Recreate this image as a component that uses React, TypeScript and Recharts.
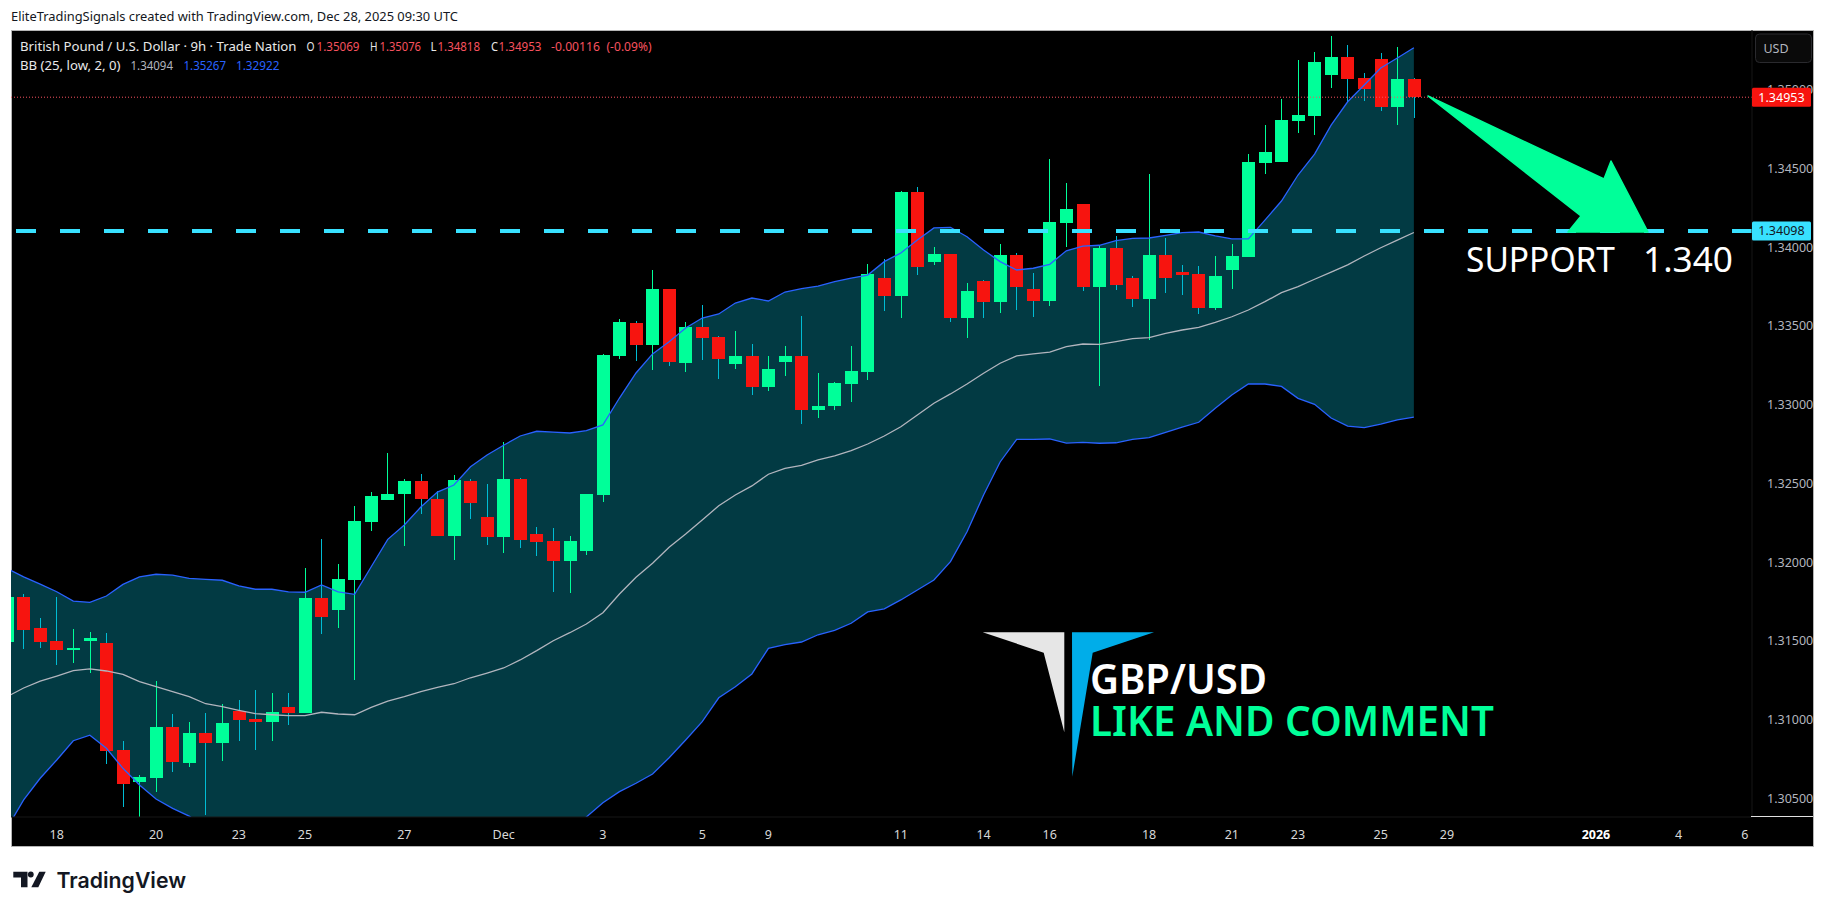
import { ComposedChart, Area, Bar, Line, XAxis, YAxis, ReferenceLine } from "recharts";

const FONT = "'Noto Sans', sans-serif";
const UP = "#00ff99";
const DOWN = "#f7140f";
const DOWN_WICK = "#00bcd4";
const BB_BLUE = "#2962ff";

const opens = [
  1.31494, 1.3178, 1.31583, 1.315, 1.31443, 1.315, 1.31488, 1.30808, 1.30605, 1.30631,
  1.30954, 1.30726, 1.30916, 1.30853, 1.31056, 1.31005, 1.30986, 1.31081, 1.31043, 1.31773,
  1.31697, 1.31888, 1.32256, 1.32396, 1.32434, 1.32516, 1.32402, 1.32167, 1.32516, 1.32288,
  1.32161, 1.32529, 1.3218, 1.32135, 1.32008, 1.32072, 1.32427, 1.3331, 1.33519, 1.3338,
  1.33735, 1.33265, 1.33494, 1.3343, 1.33259, 1.3331, 1.33113, 1.33272, 1.3331, 1.32967,
  1.32992, 1.33132, 1.33208, 1.33805, 1.33691, 1.34351, 1.33907, 1.33957, 1.33551, 1.33786,
  1.33653, 1.33951, 1.33735, 1.33659, 1.34154, 1.34275, 1.33748, 1.33996, 1.33805, 1.33672,
  1.33951, 1.33843, 1.3383, 1.33615, 1.33856, 1.33938, 1.34535, 1.34542, 1.34802, 1.34834,
  1.35094, 1.35208, 1.35075, 1.35196, 1.34891, 1.35069,
];
const highs = [
  1.31799, 1.31799, 1.31646, 1.3178, 1.31577, 1.31558, 1.31551, 1.30866, 1.3065, 1.31246,
  1.31037, 1.30986, 1.31043, 1.311, 1.31126, 1.31189, 1.3117, 1.3117, 1.31964, 1.32148,
  1.31989, 1.32358, 1.32446, 1.32694, 1.32529, 1.32561, 1.32453, 1.32554, 1.32529, 1.32497,
  1.32764, 1.32535, 1.32224, 1.32218, 1.32167, 1.32434, 1.33323, 1.33545, 1.33532, 1.33856,
  1.33735, 1.33526, 1.33634, 1.33437, 1.33469, 1.33386, 1.3331, 1.33373, 1.33564, 1.33202,
  1.33145, 1.33373, 1.33894, 1.33926, 1.34357, 1.34383, 1.34002, 1.33957, 1.33773, 1.33792,
  1.34021, 1.33964, 1.33837, 1.34561, 1.34408, 1.34275, 1.34008, 1.34072, 1.33818, 1.34465,
  1.34059, 1.33888, 1.33881, 1.33945, 1.34021, 1.34592, 1.34776, 1.34942, 1.35189, 1.3524,
  1.35342, 1.35284, 1.35107, 1.35234, 1.35272, 1.35076,
];
const lows = [
  1.31475, 1.3145, 1.31456, 1.31348, 1.31361, 1.31297, 1.30719, 1.30447, 1.30364, 1.30542,
  1.30669, 1.307, 1.30396, 1.30739, 1.30866, 1.30808, 1.30866, 1.30967, 1.31043, 1.31545,
  1.31583, 1.31253, 1.32199, 1.32396, 1.32104, 1.32307, 1.32167, 1.32015, 1.32275, 1.3211,
  1.32059, 1.32091, 1.3204, 1.31812, 1.31805, 1.32046, 1.32383, 1.33291, 1.33278, 1.33221,
  1.33246, 1.33208, 1.33284, 1.33164, 1.33227, 1.33062, 1.33088, 1.33183, 1.32878, 1.32916,
  1.32967, 1.33018, 1.33157, 1.33596, 1.33551, 1.33824, 1.33888, 1.33526, 1.33424, 1.33551,
  1.33583, 1.33602, 1.33557, 1.33627, 1.34002, 1.33723, 1.33119, 1.33729, 1.33621, 1.33411,
  1.3371, 1.33697, 1.33577, 1.33602, 1.33735, 1.33938, 1.34465, 1.34542, 1.34726, 1.34713,
  1.35011, 1.34923, 1.34929, 1.34865, 1.34776, 1.34818,
];
const closes = [
  1.3178, 1.3157, 1.31494, 1.31443, 1.31456, 1.31519, 1.30802, 1.30593, 1.30637, 1.30954,
  1.30732, 1.30916, 1.30853, 1.3098, 1.30999, 1.30986, 1.3105, 1.31043, 1.31773, 1.31653,
  1.31894, 1.32262, 1.32421, 1.32434, 1.32516, 1.32402, 1.32167, 1.32523, 1.32377, 1.32161,
  1.32529, 1.32142, 1.32129, 1.32008, 1.32135, 1.32434, 1.33316, 1.33526, 1.3338, 1.33735,
  1.33272, 1.33494, 1.33424, 1.33291, 1.3331, 1.33113, 1.33227, 1.3331, 1.32967, 1.32992,
  1.33138, 1.33215, 1.3383, 1.33691, 1.34351, 1.33875, 1.33957, 1.33551, 1.33723, 1.33653,
  1.33951, 1.33748, 1.33659, 1.34161, 1.34243, 1.33748, 1.33996, 1.33761, 1.33672, 1.33951,
  1.33805, 1.33824, 1.33615, 1.33818, 1.33945, 1.34542, 1.34605, 1.34808, 1.3484, 1.35176,
  1.35208, 1.35069, 1.35005, 1.34891, 1.35069, 1.34953,
];
const bbUpper = [
  1.31961, 1.31907, 1.31862, 1.31813, 1.31754, 1.31746, 1.31786, 1.3186, 1.31907, 1.31924,
  1.31918, 1.31898, 1.31892, 1.31886, 1.3185, 1.31829, 1.31829, 1.31812, 1.3181, 1.31856,
  1.31812, 1.31797, 1.31972, 1.32146, 1.32237, 1.32351, 1.32446, 1.32491, 1.32607, 1.32681,
  1.32743, 1.32802, 1.32832, 1.32827, 1.32821, 1.32836, 1.32872, 1.33043, 1.33202, 1.33323,
  1.33401, 1.33488, 1.33551, 1.33577, 1.33646, 1.33678, 1.33659, 1.33716, 1.33737, 1.33754,
  1.33782, 1.33805, 1.33824, 1.33909, 1.33964, 1.34046, 1.34123, 1.34127, 1.34067, 1.33983,
  1.33909, 1.33856, 1.33867, 1.33892, 1.33978, 1.34008, 1.34013, 1.34042, 1.34057, 1.34059,
  1.34076, 1.34093, 1.34097, 1.34072, 1.34053, 1.34053, 1.34173, 1.34294, 1.34459, 1.34592,
  1.34776, 1.34924, 1.3503, 1.35138, 1.35202, 1.35267,
];
const bbBasis = [
  1.31147, 1.31202, 1.31246, 1.31278, 1.31312, 1.31323, 1.3131, 1.31289, 1.31242, 1.3121,
  1.31179, 1.31147, 1.31102, 1.31083, 1.3106, 1.31039, 1.31032, 1.31026, 1.31026, 1.31048,
  1.31037, 1.31032, 1.31079, 1.31119, 1.31147, 1.31179, 1.31206, 1.31229, 1.31267, 1.31297,
  1.31329, 1.3138, 1.31439, 1.31502, 1.31553, 1.31608, 1.3168, 1.31799, 1.31905, 1.31994,
  1.32095, 1.3218, 1.32269, 1.32359, 1.32427, 1.32485, 1.32559, 1.32597, 1.32616, 1.3265,
  1.32675, 1.32709, 1.32751, 1.32802, 1.32861, 1.32935, 1.3301, 1.33069, 1.33132, 1.332,
  1.33264, 1.3331, 1.33323, 1.33335, 1.33369, 1.33386, 1.33384, 1.33401, 1.3342, 1.33426,
  1.33454, 1.33475, 1.33492, 1.33524, 1.33559, 1.33602, 1.33655, 1.33712, 1.3375, 1.33797,
  1.33843, 1.33888, 1.33945, 1.33997, 1.34046, 1.34094,
];
const bbLower = [
  1.30313, 1.30491, 1.30629, 1.30745, 1.30867, 1.30902, 1.30819, 1.30692, 1.30586, 1.30497,
  1.30438, 1.30389, 1.30313, 1.30281, 1.30271, 1.3025, 1.30237, 1.30241, 1.30244, 1.3024,
  1.30262, 1.30269, 1.30186, 1.30093, 1.30059, 1.30008, 1.2997, 1.2997, 1.29926, 1.29913,
  1.29913, 1.29958, 1.30046, 1.3018, 1.30288, 1.30383, 1.30474, 1.30544, 1.30597, 1.30656,
  1.30759, 1.30872, 1.30988, 1.3114, 1.3121, 1.31291, 1.31454, 1.31477, 1.31494, 1.3154,
  1.31568, 1.31613, 1.31685, 1.31705, 1.31761, 1.31824, 1.31888, 1.32004, 1.32194, 1.32427,
  1.32637, 1.32781, 1.32781, 1.32783, 1.32757, 1.32762, 1.32756, 1.32759, 1.32781, 1.32791,
  1.32825, 1.32859, 1.32889, 1.32978, 1.33062, 1.33132, 1.33132, 1.33117, 1.33041, 1.33003,
  1.32916, 1.32865, 1.32855, 1.32878, 1.32904, 1.32922,
];

const timeTickBars = [3, 9, 14, 18, 24, 30, 36, 42, 46, 54, 59, 63, 69, 74, 78, 83, 87, 96, 101, 105];
const timeTickLabels = ["18", "20", "23", "25", "27", "Dec", "3", "5", "9", "11", "14", "16", "18", "21", "23", "25", "29", "2026", "4", "6"];
const priceTicks = [1.305, 1.31, 1.315, 1.32, 1.325, 1.33, 1.335, 1.34, 1.345, 1.35];

const xDomain = [0.2356, 105.43];
const yDomain = [1.303829, 1.353797];
const lastPrice = 1.34953;
const supportLevel = 1.34104;

const rows = opens.map((open, i) => ({
  bar: i,
  open,
  high: highs[i],
  low: lows[i],
  close: closes[i],
  range: [lows[i], highs[i]],
  band: [bbLower[i], bbUpper[i]],
  upper: bbUpper[i],
  basis: bbBasis[i],
  lower: bbLower[i],
}));

// candle drawn from the bar's high-low box, body scaled inside it
function Candle(props: any) {
  const { x, y, width, height, payload } = props;
  const { open, high, low, close } = payload;
  const perUnit = height / (high - low);
  const up = close >= open;
  const bodyTop = y + (high - Math.max(open, close)) * perUnit;
  const bodyHeight = Math.max(Math.abs(open - close) * perUnit, 1);
  const cx = x + width / 2;
  return (
    <g shapeRendering="crispEdges">
      <rect x={Math.round(cx - 0.5)} y={y} width={1} height={height} fill={up ? UP : DOWN_WICK} />
      <rect x={Math.round(cx - 6.5)} y={bodyTop} width={13} height={bodyHeight} fill={up ? UP : DOWN} />
    </g>
  );
}

function PriceTag(props: any) {
  const { viewBox, text, fill, color } = props;
  const right = viewBox.x + viewBox.width;
  return (
    <g>
      <rect x={right} y={viewBox.y - 9.5} width={59} height={19} rx={1.5} fill={fill} />
      <text x={right + 29.5} y={viewBox.y + 4.5} textAnchor="middle" fontFamily={FONT} fontSize={12.5} fill={color}>
        {text}
      </text>
    </g>
  );
}

function TimeTick(props: any) {
  const { x, y, payload } = props;
  const label = timeTickLabels[timeTickBars.indexOf(payload.value)];
  const year = label === "2026";
  return (
    <text x={x} y={y + 4.5} textAnchor="middle" fontFamily={FONT} fontSize={12.5} fontWeight={year ? 700 : 400} fill={year ? "#ffffff" : "#d8d8d8"}>
      {label}
    </text>
  );
}

function Txt({ x, w, y, size, fill, weight, font, children }: any) {
  return (
    <text x={x} y={y} textLength={w} lengthAdjust="spacingAndGlyphs" fontFamily={font || FONT} fontSize={size} fontWeight={weight} fill={fill}>
      {children}
    </text>
  );
}

function Overlay() {
  const red = "#f7525f";
  const white = "#e8e8e8";
  return (
    <svg width={1825} height={913} style={{ position: "absolute", left: 0, top: 0, pointerEvents: "none" }}>
      <Txt x={11} w={447} y={21} size={12.5} fill="#131722">EliteTradingSignals created with TradingView.com, Dec 28, 2025 09:30 UTC</Txt>

      <Txt x={20} w={276.5} y={51} size={12.5} fill={white}>British Pound / U.S. Dollar · 9h · Trade Nation</Txt>
      <Txt x={306.5} w={8} y={51} size={12.5} fill={white}>O</Txt>
      <Txt x={316.5} w={43} y={51} size={12.5} fill={red}>1.35069</Txt>
      <Txt x={370} w={7.5} y={51} size={12.5} fill={white}>H</Txt>
      <Txt x={379.5} w={41.5} y={51} size={12.5} fill={red}>1.35076</Txt>
      <Txt x={430.5} w={6} y={51} size={12.5} fill={white}>L</Txt>
      <Txt x={437.5} w={42.5} y={51} size={12.5} fill={red}>1.34818</Txt>
      <Txt x={491} w={7} y={51} size={12.5} fill={white}>C</Txt>
      <Txt x={498.5} w={43} y={51} size={12.5} fill={red}>1.34953</Txt>
      <Txt x={551} w={49} y={51} size={12.5} fill={red}>-0.00116</Txt>
      <Txt x={606.5} w={45} y={51} size={12.5} fill={red}>(-0.09%)</Txt>

      <Txt x={20} w={100.5} y={70} size={12.5} fill={white}>BB (25, low, 2, 0)</Txt>
      <Txt x={130.5} w={42.5} y={70} size={12.5} fill="#b2b5be">1.34094</Txt>
      <Txt x={183.5} w={42.5} y={70} size={12.5} fill={BB_BLUE}>1.35267</Txt>
      <Txt x={236} w={43.5} y={70} size={12.5} fill={BB_BLUE}>1.32922</Txt>

      <rect x={1755.5} y={34} width={56} height={28.5} rx={4} fill="#0a0a0a" stroke="#2a2a2e" />
      <text x={1776} y={53} textAnchor="middle" fontFamily={FONT} fontSize={12.5} fill="#b2b5be">USD</text>

      <line x1={1751} x2={1813} y1={816.5} y2={816.5} stroke="#e0e0e0" />

      <polygon points="1428,96 1604,179 1611,161 1648,232 1568,232 1581,216" fill="#00ff99" stroke="#00ff99" strokeLinejoin="round" strokeWidth={1.5} />

      <Txt x={1466} w={149} y={271.5} size={34} fill="#ffffff">SUPPORT</Txt>
      <Txt x={1643} w={90} y={271.5} size={34} fill="#ffffff">1.340</Txt>
      <Txt x={1090} w={177} y={694} size={42} weight={600} fill="#ffffff">GBP/USD</Txt>
      <Txt x={1090} w={404} y={736} size={42} weight={600} fill="#00ff99">LIKE AND COMMENT</Txt>

      <polygon points="982.7,632.3 1064.3,632.3 1064.3,732.3 1043.7,652.7" fill="#e6e6e6" />
      <polygon points="1072,632.3 1154,632.3 1092.7,652.7 1072.3,776.7" fill="#00ade9" />

      <polygon points="13.3,871.7 27.5,871.7 27.5,887.3 21,887.3 21,877.5 13.3,877.5" fill="#131722" />
      <circle cx={30.8} cy={874.5} r={2.9} fill="#131722" />
      <polygon points="39.3,871.7 45.7,871.7 38.3,887.3 31.3,887.3" fill="#131722" />
      <Txt x={56.5} w={129.5} y={887.5} size={21.5} weight={600} font="Inter, sans-serif" fill="#131722">TradingView</Txt>
    </svg>
  );
}

export default function App() {
  return (
    <div style={{ position: "absolute", left: 0, top: 0, width: 1825, height: 913, background: "#ffffff", overflow: "hidden" }}>
      <div style={{ position: "absolute", left: 11, top: 30, width: 1803, height: 817, boxSizing: "border-box", background: "#000000", border: "1px solid #b4b4b4" }} />
      <div style={{ position: "absolute", left: 0, top: 0 }}>
        <ComposedChart width={1825} height={913} data={rows} margin={{ top: 30, right: 12, bottom: 66, left: 11 }}>
          <XAxis
            dataKey="bar"
            type="number"
            domain={xDomain}
            allowDataOverflow
            ticks={timeTickBars}
            interval={0}
            tick={<TimeTick />}
            tickLine={false}
            axisLine={{ stroke: "#161616" }}
            height={30}
            tickMargin={11}
          />
          <YAxis
            orientation="right"
            type="number"
            domain={yDomain}
            allowDataOverflow
            ticks={priceTicks}
            interval={0}
            tickFormatter={(v: number) => v.toFixed(5)}
            tick={{ fill: "#b2b5be", fontSize: 12.5, fontFamily: FONT, textAnchor: "start" }}
            tickLine={false}
            axisLine={{ stroke: "#161616" }}
            width={61}
            tickMargin={9}
          />
          <Area dataKey="band" type="linear" stroke="none" fill="#023a43" fillOpacity={1} isAnimationActive={false} />
          <Line dataKey="upper" type="linear" stroke={BB_BLUE} strokeWidth={1.3} dot={false} isAnimationActive={false} />
          <Line dataKey="lower" type="linear" stroke={BB_BLUE} strokeWidth={1.3} dot={false} isAnimationActive={false} />
          <Line dataKey="basis" type="linear" stroke="#b2b5be" strokeWidth={1.3} dot={false} isAnimationActive={false} />
          <ReferenceLine y={supportLevel} stroke="#38e1ff" strokeWidth={4} strokeDasharray="20 24" />
          <ReferenceLine y={lastPrice} stroke="#f7525f" strokeWidth={1} strokeDasharray="1 2" />
          <Bar dataKey="range" barSize={13} shape={<Candle />} isAnimationActive={false} />
        </ComposedChart>
      </div>
      {/* second layer so the price tags sit on top of the axis labels */}
      <div style={{ position: "absolute", left: 0, top: 0 }}>
        <ComposedChart width={1825} height={913} data={rows} margin={{ top: 30, right: 73, bottom: 96, left: 11 }}>
          <XAxis dataKey="bar" type="number" domain={xDomain} allowDataOverflow hide />
          <YAxis type="number" domain={yDomain} allowDataOverflow hide />
          <ReferenceLine
            y={supportLevel}
            stroke="none"
            label={<PriceTag text="1.34098" fill="#38e1ff" color="#131722" />}
          />
          <ReferenceLine
            y={lastPrice}
            stroke="none"
            label={<PriceTag text="1.34953" fill={DOWN} color="#ffffff" />}
          />
        </ComposedChart>
      </div>
      <Overlay />
    </div>
  );
}
